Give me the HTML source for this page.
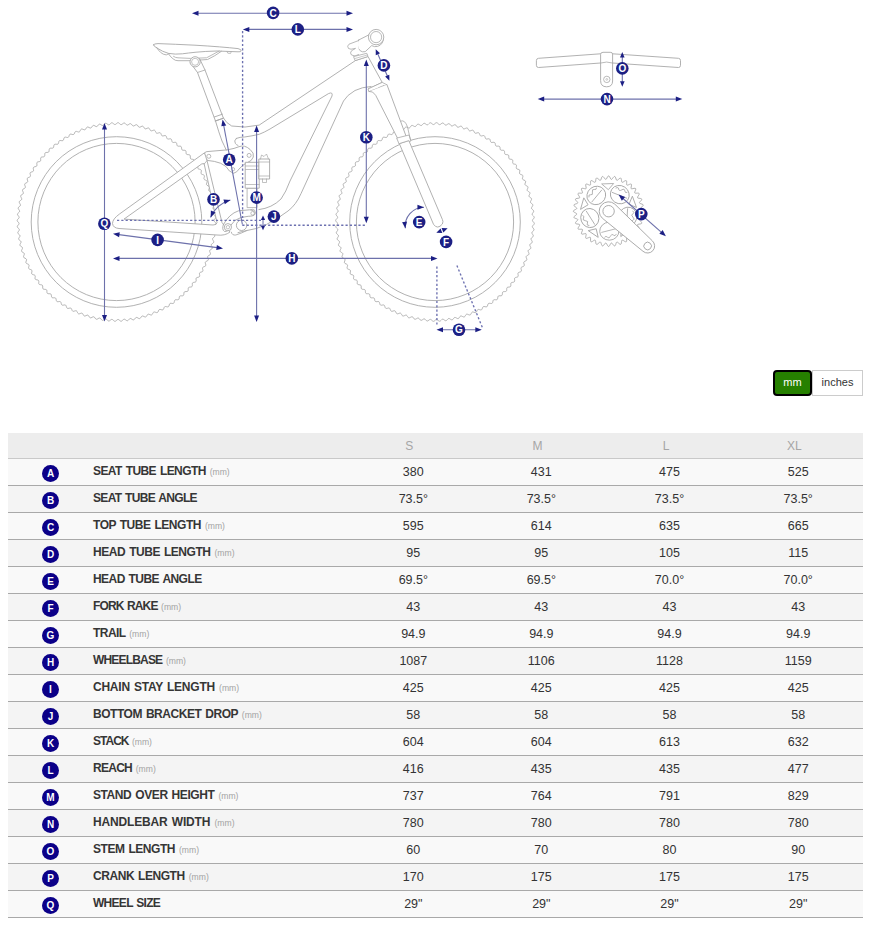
<!DOCTYPE html>
<html><head><meta charset="utf-8">
<style>
html,body{margin:0;padding:0;background:#fff;}
body{width:872px;height:928px;position:relative;overflow:hidden;font-family:"Liberation Sans",sans-serif;}
.hdr{position:absolute;left:8px;top:433px;width:855px;height:25px;background:#ededed;border-bottom:1px solid #c9c9c9;}
.hs{position:absolute;top:433px;width:80px;height:25px;line-height:25px;text-align:center;font-size:12px;color:#a6a6a6;padding-top:1px;}
.row{position:absolute;left:8px;width:855px;height:26px;border-bottom:1px solid #a9a9a9;}
.ltr{position:absolute;left:42px;width:17px;height:17px;border-radius:50%;background:#0b0088;color:#fff;font-weight:bold;font-size:10px;line-height:17px;text-align:center;}
.lab{position:absolute;left:93px;height:26px;line-height:24px;font-weight:bold;font-size:12px;word-spacing:1.08px;color:#363636;white-space:nowrap;}
.mm{font-weight:normal;font-size:8.6px;letter-spacing:0;word-spacing:0;color:#a3a3a3;}
.val{position:absolute;width:80px;height:26px;line-height:27px;text-align:center;font-size:12.5px;color:#333;}
.tog{position:absolute;top:370px;height:26px;line-height:25px;font-size:11px;text-align:center;box-sizing:border-box;}
.mmb{left:773px;width:39px;background:#268000;border:2px solid #000;border-radius:4px;color:#fff;line-height:21px;}
.inb{left:812px;width:51px;background:#fff;border:1px solid #ccc;color:#333;line-height:23px;}
svg{position:absolute;left:0;top:0;}
</style></head><body>
<svg width="872" height="360" viewBox="0 0 872 360"><path d="M214.90,222.00 L215.57,222.78 L215.84,223.56 L215.54,224.33 L214.85,225.09 L214.15,225.84 L213.84,226.59 L214.08,227.37 L214.71,228.18 L215.32,229.00 L215.54,229.79 L215.20,230.55 L214.46,231.26 L213.72,231.96 L213.36,232.69 L213.55,233.49 L214.12,234.33 L214.69,235.19 L214.86,236.00 L214.47,236.73 L213.69,237.39 L212.90,238.05 L212.50,238.75 L212.64,239.56 L213.16,240.44 L213.67,241.33 L213.79,242.15 L213.35,242.85 L212.53,243.47 L211.70,244.07 L211.26,244.75 L211.35,245.56 L211.81,246.47 L212.26,247.39 L212.33,248.22 L211.85,248.89 L210.99,249.45 L210.13,250.00 L209.64,250.65 L209.68,251.47 L210.08,252.41 L210.48,253.35 L210.49,254.18 L209.98,254.83 L209.08,255.33 L208.19,255.83 L207.66,256.45 L207.65,257.26 L207.99,258.22 L208.33,259.19 L208.29,260.02 L207.73,260.63 L206.81,261.08 L205.88,261.52 L205.32,262.10 L205.25,262.91 L205.53,263.90 L205.81,264.89 L205.72,265.71 L205.12,266.28 L204.18,266.67 L203.23,267.05 L202.62,267.60 L202.51,268.41 L202.73,269.40 L202.94,270.41 L202.80,271.22 L202.17,271.76 L201.20,272.09 L200.23,272.41 L199.59,272.92 L199.42,273.72 L199.58,274.73 L199.73,275.74 L199.54,276.55 L198.88,277.04 L197.88,277.31 L196.90,277.56 L196.23,278.03 L196.01,278.82 L196.11,279.84 L196.19,280.86 L195.95,281.65 L195.26,282.11 L194.25,282.31 L193.25,282.50 L192.55,282.93 L192.29,283.70 L192.32,284.72 L192.34,285.75 L192.05,286.52 L191.33,286.93 L190.31,287.07 L189.30,287.20 L188.58,287.59 L188.26,288.34 L188.23,289.36 L188.19,290.38 L187.85,291.14 L187.10,291.50 L186.08,291.58 L185.06,291.64 L184.32,291.98 L183.96,292.71 L183.86,293.73 L183.75,294.75 L183.36,295.48 L182.60,295.80 L181.57,295.81 L180.55,295.81 L179.79,296.10 L179.38,296.81 L179.22,297.82 L179.05,298.83 L178.62,299.54 L177.83,299.80 L176.81,299.75 L175.79,299.69 L175.01,299.93 L174.56,300.61 L174.34,301.61 L174.10,302.61 L173.63,303.28 L172.83,303.50 L171.81,303.38 L170.79,303.26 L170.00,303.45 L169.51,304.10 L169.23,305.08 L168.93,306.06 L168.41,306.71 L167.60,306.88 L166.59,306.70 L165.59,306.51 L164.78,306.65 L164.25,307.27 L163.90,308.23 L163.54,309.19 L162.99,309.80 L162.17,309.92 L161.17,309.68 L160.18,309.42 L159.37,309.51 L158.80,310.10 L158.40,311.03 L157.98,311.97 L157.38,312.55 L156.56,312.61 L155.58,312.31 L154.61,311.99 L153.79,312.03 L153.19,312.58 L152.72,313.49 L152.25,314.40 L151.62,314.94 L150.79,314.95 L149.83,314.58 L148.88,314.21 L148.07,314.20 L147.43,314.71 L146.91,315.58 L146.37,316.46 L145.71,316.96 L144.89,316.92 L143.95,316.49 L143.03,316.06 L142.21,316.00 L141.55,316.46 L140.97,317.31 L140.38,318.15 L139.69,318.60 L138.87,318.51 L137.97,318.03 L137.07,317.54 L136.26,317.43 L135.57,317.85 L134.94,318.66 L134.30,319.46 L133.58,319.87 L132.77,319.73 L131.89,319.19 L131.03,318.64 L130.23,318.48 L129.51,318.86 L128.83,319.62 L128.14,320.39 L127.40,320.75 L126.60,320.56 L125.76,319.96 L124.93,319.36 L124.15,319.15 L123.40,319.48 L122.68,320.21 L121.94,320.92 L121.18,321.24 L120.39,321.00 L119.59,320.35 L118.80,319.70 L118.03,319.44 L117.27,319.73 L116.50,320.40 L115.72,321.07 L114.94,321.34 L114.17,321.04 L113.41,320.35 L112.66,319.65 L111.91,319.34 L111.13,319.58 L110.32,320.21 L109.50,320.82 L108.71,321.04 L107.95,320.70 L107.24,319.96 L106.54,319.22 L105.81,318.86 L105.01,319.05 L104.17,319.62 L103.31,320.19 L102.50,320.36 L101.77,319.97 L101.11,319.19 L100.45,318.40 L99.75,318.00 L98.94,318.14 L98.06,318.66 L97.17,319.17 L96.35,319.29 L95.65,318.85 L95.03,318.03 L94.43,317.20 L93.75,316.76 L92.94,316.85 L92.03,317.31 L91.11,317.76 L90.28,317.83 L89.61,317.35 L89.05,316.49 L88.50,315.63 L87.85,315.14 L87.03,315.18 L86.09,315.58 L85.15,315.98 L84.32,315.99 L83.67,315.48 L83.17,314.58 L82.67,313.69 L82.05,313.16 L81.24,313.15 L80.28,313.49 L79.31,313.83 L78.48,313.79 L77.87,313.23 L77.42,312.31 L76.98,311.38 L76.40,310.82 L75.59,310.75 L74.60,311.03 L73.61,311.31 L72.79,311.22 L72.22,310.62 L71.83,309.68 L71.45,308.73 L70.90,308.12 L70.09,308.01 L69.10,308.23 L68.09,308.44 L67.28,308.30 L66.74,307.67 L66.41,306.70 L66.09,305.73 L65.58,305.09 L64.78,304.92 L63.77,305.08 L62.76,305.23 L61.95,305.04 L61.46,304.38 L61.19,303.38 L60.94,302.40 L60.47,301.73 L59.68,301.51 L58.66,301.61 L57.64,301.69 L56.85,301.45 L56.39,300.76 L56.19,299.75 L56.00,298.75 L55.57,298.05 L54.80,297.79 L53.78,297.82 L52.75,297.84 L51.98,297.55 L51.57,296.83 L51.43,295.81 L51.30,294.80 L50.91,294.08 L50.16,293.76 L49.14,293.73 L48.12,293.69 L47.36,293.35 L47.00,292.60 L46.92,291.58 L46.86,290.56 L46.52,289.82 L45.79,289.46 L44.77,289.36 L43.75,289.25 L43.02,288.86 L42.70,288.10 L42.69,287.07 L42.69,286.05 L42.40,285.29 L41.69,284.88 L40.68,284.72 L39.67,284.55 L38.96,284.12 L38.70,283.33 L38.75,282.31 L38.81,281.29 L38.57,280.51 L37.89,280.06 L36.89,279.84 L35.89,279.60 L35.22,279.13 L35.00,278.33 L35.12,277.31 L35.24,276.29 L35.05,275.50 L34.40,275.01 L33.42,274.73 L32.44,274.43 L31.79,273.91 L31.62,273.10 L31.80,272.09 L31.99,271.09 L31.85,270.28 L31.23,269.75 L30.27,269.40 L29.31,269.04 L28.70,268.49 L28.58,267.67 L28.82,266.67 L29.08,265.68 L28.99,264.87 L28.40,264.30 L27.47,263.90 L26.53,263.48 L25.95,262.88 L25.89,262.06 L26.19,261.08 L26.51,260.11 L26.47,259.29 L25.92,258.69 L25.01,258.22 L24.10,257.75 L23.56,257.12 L23.55,256.29 L23.92,255.33 L24.29,254.38 L24.30,253.57 L23.79,252.93 L22.92,252.41 L22.04,251.87 L21.54,251.21 L21.58,250.39 L22.01,249.45 L22.44,248.53 L22.50,247.71 L22.04,247.05 L21.19,246.47 L20.35,245.88 L19.90,245.19 L19.99,244.37 L20.47,243.47 L20.96,242.57 L21.07,241.76 L20.65,241.07 L19.84,240.44 L19.04,239.80 L18.63,239.08 L18.77,238.27 L19.31,237.39 L19.86,236.53 L20.02,235.73 L19.64,235.01 L18.88,234.33 L18.11,233.64 L17.75,232.90 L17.94,232.10 L18.54,231.26 L19.14,230.43 L19.35,229.65 L19.02,228.90 L18.29,228.18 L17.58,227.44 L17.26,226.68 L17.50,225.89 L18.15,225.09 L18.80,224.30 L19.06,223.53 L18.77,222.77 L18.10,222.00 L17.43,221.22 L17.16,220.44 L17.46,219.67 L18.15,218.91 L18.85,218.16 L19.16,217.41 L18.92,216.63 L18.29,215.82 L17.68,215.00 L17.46,214.21 L17.80,213.45 L18.54,212.74 L19.28,212.04 L19.64,211.31 L19.45,210.51 L18.88,209.67 L18.31,208.81 L18.14,208.00 L18.53,207.27 L19.31,206.61 L20.10,205.95 L20.50,205.25 L20.36,204.44 L19.84,203.56 L19.33,202.67 L19.21,201.85 L19.65,201.15 L20.47,200.53 L21.30,199.93 L21.74,199.25 L21.65,198.44 L21.19,197.53 L20.74,196.61 L20.67,195.78 L21.15,195.11 L22.01,194.55 L22.87,194.00 L23.36,193.35 L23.32,192.53 L22.92,191.59 L22.52,190.65 L22.51,189.82 L23.02,189.17 L23.92,188.67 L24.81,188.17 L25.34,187.55 L25.35,186.74 L25.01,185.78 L24.67,184.81 L24.71,183.98 L25.27,183.37 L26.19,182.92 L27.12,182.48 L27.68,181.90 L27.75,181.09 L27.47,180.10 L27.19,179.11 L27.28,178.29 L27.88,177.72 L28.82,177.33 L29.77,176.95 L30.38,176.40 L30.49,175.59 L30.27,174.60 L30.06,173.59 L30.20,172.78 L30.83,172.24 L31.80,171.91 L32.77,171.59 L33.41,171.08 L33.58,170.28 L33.42,169.27 L33.27,168.26 L33.46,167.45 L34.12,166.96 L35.12,166.69 L36.10,166.44 L36.77,165.97 L36.99,165.18 L36.89,164.16 L36.81,163.14 L37.05,162.35 L37.74,161.89 L38.75,161.69 L39.75,161.50 L40.45,161.07 L40.71,160.30 L40.68,159.28 L40.66,158.25 L40.95,157.48 L41.67,157.07 L42.69,156.93 L43.70,156.80 L44.42,156.41 L44.74,155.66 L44.77,154.64 L44.81,153.62 L45.15,152.86 L45.90,152.50 L46.92,152.42 L47.94,152.36 L48.68,152.02 L49.04,151.29 L49.14,150.27 L49.25,149.25 L49.64,148.52 L50.40,148.20 L51.43,148.19 L52.45,148.19 L53.21,147.90 L53.62,147.19 L53.78,146.18 L53.95,145.17 L54.38,144.46 L55.17,144.20 L56.19,144.25 L57.21,144.31 L57.99,144.07 L58.44,143.39 L58.66,142.39 L58.90,141.39 L59.37,140.72 L60.17,140.50 L61.19,140.62 L62.21,140.74 L63.00,140.55 L63.49,139.90 L63.77,138.92 L64.07,137.94 L64.59,137.29 L65.40,137.12 L66.41,137.30 L67.41,137.49 L68.22,137.35 L68.75,136.73 L69.10,135.77 L69.46,134.81 L70.01,134.20 L70.83,134.08 L71.83,134.32 L72.82,134.58 L73.63,134.49 L74.20,133.90 L74.60,132.97 L75.02,132.03 L75.62,131.45 L76.44,131.39 L77.42,131.69 L78.39,132.01 L79.21,131.97 L79.81,131.42 L80.28,130.51 L80.75,129.60 L81.38,129.06 L82.21,129.05 L83.17,129.42 L84.12,129.79 L84.93,129.80 L85.57,129.29 L86.09,128.42 L86.63,127.54 L87.29,127.04 L88.11,127.08 L89.05,127.51 L89.97,127.94 L90.79,128.00 L91.45,127.54 L92.03,126.69 L92.62,125.85 L93.31,125.40 L94.13,125.49 L95.03,125.97 L95.93,126.46 L96.74,126.57 L97.43,126.15 L98.06,125.34 L98.70,124.54 L99.42,124.13 L100.23,124.27 L101.11,124.81 L101.97,125.36 L102.77,125.52 L103.49,125.14 L104.17,124.38 L104.86,123.61 L105.60,123.25 L106.40,123.44 L107.24,124.04 L108.07,124.64 L108.85,124.85 L109.60,124.52 L110.32,123.79 L111.06,123.08 L111.82,122.76 L112.61,123.00 L113.41,123.65 L114.20,124.30 L114.97,124.56 L115.73,124.27 L116.50,123.60 L117.28,122.93 L118.06,122.66 L118.83,122.96 L119.59,123.65 L120.34,124.35 L121.09,124.66 L121.87,124.42 L122.68,123.79 L123.50,123.18 L124.29,122.96 L125.05,123.30 L125.76,124.04 L126.46,124.78 L127.19,125.14 L127.99,124.95 L128.83,124.38 L129.69,123.81 L130.50,123.64 L131.23,124.03 L131.89,124.81 L132.55,125.60 L133.25,126.00 L134.06,125.86 L134.94,125.34 L135.83,124.83 L136.65,124.71 L137.35,125.15 L137.97,125.97 L138.57,126.80 L139.25,127.24 L140.06,127.15 L140.97,126.69 L141.89,126.24 L142.72,126.17 L143.39,126.65 L143.95,127.51 L144.50,128.37 L145.15,128.86 L145.97,128.82 L146.91,128.42 L147.85,128.02 L148.68,128.01 L149.33,128.52 L149.83,129.42 L150.33,130.31 L150.95,130.84 L151.76,130.85 L152.72,130.51 L153.69,130.17 L154.52,130.21 L155.13,130.77 L155.58,131.69 L156.02,132.62 L156.60,133.18 L157.41,133.25 L158.40,132.97 L159.39,132.69 L160.21,132.78 L160.78,133.38 L161.17,134.32 L161.55,135.27 L162.10,135.88 L162.91,135.99 L163.90,135.77 L164.91,135.56 L165.72,135.70 L166.26,136.33 L166.59,137.30 L166.91,138.27 L167.42,138.91 L168.22,139.08 L169.23,138.92 L170.24,138.77 L171.05,138.96 L171.54,139.62 L171.81,140.62 L172.06,141.60 L172.53,142.27 L173.32,142.49 L174.34,142.39 L175.36,142.31 L176.15,142.55 L176.61,143.24 L176.81,144.25 L177.00,145.25 L177.43,145.95 L178.20,146.21 L179.22,146.18 L180.25,146.16 L181.02,146.45 L181.43,147.17 L181.57,148.19 L181.70,149.20 L182.09,149.92 L182.84,150.24 L183.86,150.27 L184.88,150.31 L185.64,150.65 L186.00,151.40 L186.08,152.42 L186.14,153.44 L186.48,154.18 L187.21,154.54 L188.23,154.64 L189.25,154.75 L189.98,155.14 L190.30,155.90 L190.31,156.93 L190.31,157.95 L190.60,158.71 L191.31,159.12 L192.32,159.28 L193.33,159.45 L194.04,159.88 L194.30,160.67 L194.25,161.69 L194.19,162.71 L194.43,163.49 L195.11,163.94 L196.11,164.16 L197.11,164.40 L197.78,164.87 L198.00,165.67 L197.88,166.69 L197.76,167.71 L197.95,168.50 L198.60,168.99 L199.58,169.27 L200.56,169.57 L201.21,170.09 L201.38,170.90 L201.20,171.91 L201.01,172.91 L201.15,173.72 L201.77,174.25 L202.73,174.60 L203.69,174.96 L204.30,175.51 L204.42,176.33 L204.18,177.33 L203.92,178.32 L204.01,179.13 L204.60,179.70 L205.53,180.10 L206.47,180.52 L207.05,181.12 L207.11,181.94 L206.81,182.92 L206.49,183.89 L206.53,184.71 L207.08,185.31 L207.99,185.78 L208.90,186.25 L209.44,186.88 L209.45,187.71 L209.08,188.67 L208.71,189.62 L208.70,190.43 L209.21,191.07 L210.08,191.59 L210.96,192.13 L211.46,192.79 L211.42,193.61 L210.99,194.55 L210.56,195.47 L210.50,196.29 L210.96,196.95 L211.81,197.53 L212.65,198.12 L213.10,198.81 L213.01,199.63 L212.53,200.53 L212.04,201.43 L211.93,202.24 L212.35,202.93 L213.16,203.56 L213.96,204.20 L214.37,204.92 L214.23,205.73 L213.69,206.61 L213.14,207.47 L212.98,208.27 L213.36,208.99 L214.12,209.67 L214.89,210.36 L215.25,211.10 L215.06,211.90 L214.46,212.74 L213.86,213.57 L213.65,214.35 L213.98,215.10 L214.71,215.82 L215.42,216.56 L215.74,217.32 L215.50,218.11 L214.85,218.91 L214.20,219.70 L213.94,220.47 L214.23,221.23 L214.90,222.00Z" fill="none" stroke="#a8a8a8" stroke-width="0.85"/><circle cx="116.5" cy="222.0" r="85.3" fill="none" stroke="#a8a8a8" stroke-width="0.9"/><circle cx="116.5" cy="222.0" r="78.6" fill="none" stroke="#a8a8a8" stroke-width="0.9"/><path d="M533.40,222.00 L534.07,222.78 L534.34,223.56 L534.04,224.33 L533.35,225.09 L532.65,225.84 L532.34,226.59 L532.58,227.37 L533.21,228.18 L533.82,229.00 L534.04,229.79 L533.70,230.55 L532.96,231.26 L532.22,231.96 L531.86,232.69 L532.05,233.49 L532.62,234.33 L533.19,235.19 L533.36,236.00 L532.97,236.73 L532.19,237.39 L531.40,238.05 L531.00,238.75 L531.14,239.56 L531.66,240.44 L532.17,241.33 L532.29,242.15 L531.85,242.85 L531.03,243.47 L530.20,244.07 L529.76,244.75 L529.85,245.56 L530.31,246.47 L530.76,247.39 L530.83,248.22 L530.35,248.89 L529.49,249.45 L528.63,250.00 L528.14,250.65 L528.18,251.47 L528.58,252.41 L528.98,253.35 L528.99,254.18 L528.48,254.83 L527.58,255.33 L526.69,255.83 L526.16,256.45 L526.15,257.26 L526.49,258.22 L526.83,259.19 L526.79,260.02 L526.23,260.63 L525.31,261.08 L524.38,261.52 L523.82,262.10 L523.75,262.91 L524.03,263.90 L524.31,264.89 L524.22,265.71 L523.62,266.28 L522.68,266.67 L521.73,267.05 L521.12,267.60 L521.01,268.41 L521.23,269.40 L521.44,270.41 L521.30,271.22 L520.67,271.76 L519.70,272.09 L518.73,272.41 L518.09,272.92 L517.92,273.72 L518.08,274.73 L518.23,275.74 L518.04,276.55 L517.38,277.04 L516.38,277.31 L515.40,277.56 L514.73,278.03 L514.51,278.82 L514.61,279.84 L514.69,280.86 L514.45,281.65 L513.76,282.11 L512.75,282.31 L511.75,282.50 L511.05,282.93 L510.79,283.70 L510.82,284.72 L510.84,285.75 L510.55,286.52 L509.83,286.93 L508.81,287.07 L507.80,287.20 L507.08,287.59 L506.76,288.34 L506.73,289.36 L506.69,290.38 L506.35,291.14 L505.60,291.50 L504.58,291.58 L503.56,291.64 L502.82,291.98 L502.46,292.71 L502.36,293.73 L502.25,294.75 L501.86,295.48 L501.10,295.80 L500.07,295.81 L499.05,295.81 L498.29,296.10 L497.88,296.81 L497.72,297.82 L497.55,298.83 L497.12,299.54 L496.33,299.80 L495.31,299.75 L494.29,299.69 L493.51,299.93 L493.06,300.61 L492.84,301.61 L492.60,302.61 L492.13,303.28 L491.33,303.50 L490.31,303.38 L489.29,303.26 L488.50,303.45 L488.01,304.10 L487.73,305.08 L487.43,306.06 L486.91,306.71 L486.10,306.88 L485.09,306.70 L484.09,306.51 L483.28,306.65 L482.75,307.27 L482.40,308.23 L482.04,309.19 L481.49,309.80 L480.67,309.92 L479.67,309.68 L478.68,309.42 L477.87,309.51 L477.30,310.10 L476.90,311.03 L476.48,311.97 L475.88,312.55 L475.06,312.61 L474.08,312.31 L473.11,311.99 L472.29,312.03 L471.69,312.58 L471.22,313.49 L470.75,314.40 L470.12,314.94 L469.29,314.95 L468.33,314.58 L467.38,314.21 L466.57,314.20 L465.93,314.71 L465.41,315.58 L464.87,316.46 L464.21,316.96 L463.39,316.92 L462.45,316.49 L461.53,316.06 L460.71,316.00 L460.05,316.46 L459.47,317.31 L458.88,318.15 L458.19,318.60 L457.37,318.51 L456.47,318.03 L455.57,317.54 L454.76,317.43 L454.07,317.85 L453.44,318.66 L452.80,319.46 L452.08,319.87 L451.27,319.73 L450.39,319.19 L449.53,318.64 L448.73,318.48 L448.01,318.86 L447.33,319.62 L446.64,320.39 L445.90,320.75 L445.10,320.56 L444.26,319.96 L443.43,319.36 L442.65,319.15 L441.90,319.48 L441.18,320.21 L440.44,320.92 L439.68,321.24 L438.89,321.00 L438.09,320.35 L437.30,319.70 L436.53,319.44 L435.77,319.73 L435.00,320.40 L434.22,321.07 L433.44,321.34 L432.67,321.04 L431.91,320.35 L431.16,319.65 L430.41,319.34 L429.63,319.58 L428.82,320.21 L428.00,320.82 L427.21,321.04 L426.45,320.70 L425.74,319.96 L425.04,319.22 L424.31,318.86 L423.51,319.05 L422.67,319.62 L421.81,320.19 L421.00,320.36 L420.27,319.97 L419.61,319.19 L418.95,318.40 L418.25,318.00 L417.44,318.14 L416.56,318.66 L415.67,319.17 L414.85,319.29 L414.15,318.85 L413.53,318.03 L412.93,317.20 L412.25,316.76 L411.44,316.85 L410.53,317.31 L409.61,317.76 L408.78,317.83 L408.11,317.35 L407.55,316.49 L407.00,315.63 L406.35,315.14 L405.53,315.18 L404.59,315.58 L403.65,315.98 L402.82,315.99 L402.17,315.48 L401.67,314.58 L401.17,313.69 L400.55,313.16 L399.74,313.15 L398.78,313.49 L397.81,313.83 L396.98,313.79 L396.37,313.23 L395.92,312.31 L395.48,311.38 L394.90,310.82 L394.09,310.75 L393.10,311.03 L392.11,311.31 L391.29,311.22 L390.72,310.62 L390.33,309.68 L389.95,308.73 L389.40,308.12 L388.59,308.01 L387.60,308.23 L386.59,308.44 L385.78,308.30 L385.24,307.67 L384.91,306.70 L384.59,305.73 L384.08,305.09 L383.28,304.92 L382.27,305.08 L381.26,305.23 L380.45,305.04 L379.96,304.38 L379.69,303.38 L379.44,302.40 L378.97,301.73 L378.18,301.51 L377.16,301.61 L376.14,301.69 L375.35,301.45 L374.89,300.76 L374.69,299.75 L374.50,298.75 L374.07,298.05 L373.30,297.79 L372.28,297.82 L371.25,297.84 L370.48,297.55 L370.07,296.83 L369.93,295.81 L369.80,294.80 L369.41,294.08 L368.66,293.76 L367.64,293.73 L366.62,293.69 L365.86,293.35 L365.50,292.60 L365.42,291.58 L365.36,290.56 L365.02,289.82 L364.29,289.46 L363.27,289.36 L362.25,289.25 L361.52,288.86 L361.20,288.10 L361.19,287.07 L361.19,286.05 L360.90,285.29 L360.19,284.88 L359.18,284.72 L358.17,284.55 L357.46,284.12 L357.20,283.33 L357.25,282.31 L357.31,281.29 L357.07,280.51 L356.39,280.06 L355.39,279.84 L354.39,279.60 L353.72,279.13 L353.50,278.33 L353.62,277.31 L353.74,276.29 L353.55,275.50 L352.90,275.01 L351.92,274.73 L350.94,274.43 L350.29,273.91 L350.12,273.10 L350.30,272.09 L350.49,271.09 L350.35,270.28 L349.73,269.75 L348.77,269.40 L347.81,269.04 L347.20,268.49 L347.08,267.67 L347.32,266.67 L347.58,265.68 L347.49,264.87 L346.90,264.30 L345.97,263.90 L345.03,263.48 L344.45,262.88 L344.39,262.06 L344.69,261.08 L345.01,260.11 L344.97,259.29 L344.42,258.69 L343.51,258.22 L342.60,257.75 L342.06,257.12 L342.05,256.29 L342.42,255.33 L342.79,254.38 L342.80,253.57 L342.29,252.93 L341.42,252.41 L340.54,251.87 L340.04,251.21 L340.08,250.39 L340.51,249.45 L340.94,248.53 L341.00,247.71 L340.54,247.05 L339.69,246.47 L338.85,245.88 L338.40,245.19 L338.49,244.37 L338.97,243.47 L339.46,242.57 L339.57,241.76 L339.15,241.07 L338.34,240.44 L337.54,239.80 L337.13,239.08 L337.27,238.27 L337.81,237.39 L338.36,236.53 L338.52,235.73 L338.14,235.01 L337.38,234.33 L336.61,233.64 L336.25,232.90 L336.44,232.10 L337.04,231.26 L337.64,230.43 L337.85,229.65 L337.52,228.90 L336.79,228.18 L336.08,227.44 L335.76,226.68 L336.00,225.89 L336.65,225.09 L337.30,224.30 L337.56,223.53 L337.27,222.77 L336.60,222.00 L335.93,221.22 L335.66,220.44 L335.96,219.67 L336.65,218.91 L337.35,218.16 L337.66,217.41 L337.42,216.63 L336.79,215.82 L336.18,215.00 L335.96,214.21 L336.30,213.45 L337.04,212.74 L337.78,212.04 L338.14,211.31 L337.95,210.51 L337.38,209.67 L336.81,208.81 L336.64,208.00 L337.03,207.27 L337.81,206.61 L338.60,205.95 L339.00,205.25 L338.86,204.44 L338.34,203.56 L337.83,202.67 L337.71,201.85 L338.15,201.15 L338.97,200.53 L339.80,199.93 L340.24,199.25 L340.15,198.44 L339.69,197.53 L339.24,196.61 L339.17,195.78 L339.65,195.11 L340.51,194.55 L341.37,194.00 L341.86,193.35 L341.82,192.53 L341.42,191.59 L341.02,190.65 L341.01,189.82 L341.52,189.17 L342.42,188.67 L343.31,188.17 L343.84,187.55 L343.85,186.74 L343.51,185.78 L343.17,184.81 L343.21,183.98 L343.77,183.37 L344.69,182.92 L345.62,182.48 L346.18,181.90 L346.25,181.09 L345.97,180.10 L345.69,179.11 L345.78,178.29 L346.38,177.72 L347.32,177.33 L348.27,176.95 L348.88,176.40 L348.99,175.59 L348.77,174.60 L348.56,173.59 L348.70,172.78 L349.33,172.24 L350.30,171.91 L351.27,171.59 L351.91,171.08 L352.08,170.28 L351.92,169.27 L351.77,168.26 L351.96,167.45 L352.62,166.96 L353.62,166.69 L354.60,166.44 L355.27,165.97 L355.49,165.18 L355.39,164.16 L355.31,163.14 L355.55,162.35 L356.24,161.89 L357.25,161.69 L358.25,161.50 L358.95,161.07 L359.21,160.30 L359.18,159.28 L359.16,158.25 L359.45,157.48 L360.17,157.07 L361.19,156.93 L362.20,156.80 L362.92,156.41 L363.24,155.66 L363.27,154.64 L363.31,153.62 L363.65,152.86 L364.40,152.50 L365.42,152.42 L366.44,152.36 L367.18,152.02 L367.54,151.29 L367.64,150.27 L367.75,149.25 L368.14,148.52 L368.90,148.20 L369.93,148.19 L370.95,148.19 L371.71,147.90 L372.12,147.19 L372.28,146.18 L372.45,145.17 L372.88,144.46 L373.67,144.20 L374.69,144.25 L375.71,144.31 L376.49,144.07 L376.94,143.39 L377.16,142.39 L377.40,141.39 L377.87,140.72 L378.67,140.50 L379.69,140.62 L380.71,140.74 L381.50,140.55 L381.99,139.90 L382.27,138.92 L382.57,137.94 L383.09,137.29 L383.90,137.12 L384.91,137.30 L385.91,137.49 L386.72,137.35 L387.25,136.73 L387.60,135.77 L387.96,134.81 L388.51,134.20 L389.33,134.08 L390.33,134.32 L391.32,134.58 L392.13,134.49 L392.70,133.90 L393.10,132.97 L393.52,132.03 L394.12,131.45 L394.94,131.39 L395.92,131.69 L396.89,132.01 L397.71,131.97 L398.31,131.42 L398.78,130.51 L399.25,129.60 L399.88,129.06 L400.71,129.05 L401.67,129.42 L402.62,129.79 L403.43,129.80 L404.07,129.29 L404.59,128.42 L405.13,127.54 L405.79,127.04 L406.61,127.08 L407.55,127.51 L408.47,127.94 L409.29,128.00 L409.95,127.54 L410.53,126.69 L411.12,125.85 L411.81,125.40 L412.63,125.49 L413.53,125.97 L414.43,126.46 L415.24,126.57 L415.93,126.15 L416.56,125.34 L417.20,124.54 L417.92,124.13 L418.73,124.27 L419.61,124.81 L420.47,125.36 L421.27,125.52 L421.99,125.14 L422.67,124.38 L423.36,123.61 L424.10,123.25 L424.90,123.44 L425.74,124.04 L426.57,124.64 L427.35,124.85 L428.10,124.52 L428.82,123.79 L429.56,123.08 L430.32,122.76 L431.11,123.00 L431.91,123.65 L432.70,124.30 L433.47,124.56 L434.23,124.27 L435.00,123.60 L435.78,122.93 L436.56,122.66 L437.33,122.96 L438.09,123.65 L438.84,124.35 L439.59,124.66 L440.37,124.42 L441.18,123.79 L442.00,123.18 L442.79,122.96 L443.55,123.30 L444.26,124.04 L444.96,124.78 L445.69,125.14 L446.49,124.95 L447.33,124.38 L448.19,123.81 L449.00,123.64 L449.73,124.03 L450.39,124.81 L451.05,125.60 L451.75,126.00 L452.56,125.86 L453.44,125.34 L454.33,124.83 L455.15,124.71 L455.85,125.15 L456.47,125.97 L457.07,126.80 L457.75,127.24 L458.56,127.15 L459.47,126.69 L460.39,126.24 L461.22,126.17 L461.89,126.65 L462.45,127.51 L463.00,128.37 L463.65,128.86 L464.47,128.82 L465.41,128.42 L466.35,128.02 L467.18,128.01 L467.83,128.52 L468.33,129.42 L468.83,130.31 L469.45,130.84 L470.26,130.85 L471.22,130.51 L472.19,130.17 L473.02,130.21 L473.63,130.77 L474.08,131.69 L474.52,132.62 L475.10,133.18 L475.91,133.25 L476.90,132.97 L477.89,132.69 L478.71,132.78 L479.28,133.38 L479.67,134.32 L480.05,135.27 L480.60,135.88 L481.41,135.99 L482.40,135.77 L483.41,135.56 L484.22,135.70 L484.76,136.33 L485.09,137.30 L485.41,138.27 L485.92,138.91 L486.72,139.08 L487.73,138.92 L488.74,138.77 L489.55,138.96 L490.04,139.62 L490.31,140.62 L490.56,141.60 L491.03,142.27 L491.82,142.49 L492.84,142.39 L493.86,142.31 L494.65,142.55 L495.11,143.24 L495.31,144.25 L495.50,145.25 L495.93,145.95 L496.70,146.21 L497.72,146.18 L498.75,146.16 L499.52,146.45 L499.93,147.17 L500.07,148.19 L500.20,149.20 L500.59,149.92 L501.34,150.24 L502.36,150.27 L503.38,150.31 L504.14,150.65 L504.50,151.40 L504.58,152.42 L504.64,153.44 L504.98,154.18 L505.71,154.54 L506.73,154.64 L507.75,154.75 L508.48,155.14 L508.80,155.90 L508.81,156.93 L508.81,157.95 L509.10,158.71 L509.81,159.12 L510.82,159.28 L511.83,159.45 L512.54,159.88 L512.80,160.67 L512.75,161.69 L512.69,162.71 L512.93,163.49 L513.61,163.94 L514.61,164.16 L515.61,164.40 L516.28,164.87 L516.50,165.67 L516.38,166.69 L516.26,167.71 L516.45,168.50 L517.10,168.99 L518.08,169.27 L519.06,169.57 L519.71,170.09 L519.88,170.90 L519.70,171.91 L519.51,172.91 L519.65,173.72 L520.27,174.25 L521.23,174.60 L522.19,174.96 L522.80,175.51 L522.92,176.33 L522.68,177.33 L522.42,178.32 L522.51,179.13 L523.10,179.70 L524.03,180.10 L524.97,180.52 L525.55,181.12 L525.61,181.94 L525.31,182.92 L524.99,183.89 L525.03,184.71 L525.58,185.31 L526.49,185.78 L527.40,186.25 L527.94,186.88 L527.95,187.71 L527.58,188.67 L527.21,189.62 L527.20,190.43 L527.71,191.07 L528.58,191.59 L529.46,192.13 L529.96,192.79 L529.92,193.61 L529.49,194.55 L529.06,195.47 L529.00,196.29 L529.46,196.95 L530.31,197.53 L531.15,198.12 L531.60,198.81 L531.51,199.63 L531.03,200.53 L530.54,201.43 L530.43,202.24 L530.85,202.93 L531.66,203.56 L532.46,204.20 L532.87,204.92 L532.73,205.73 L532.19,206.61 L531.64,207.47 L531.48,208.27 L531.86,208.99 L532.62,209.67 L533.39,210.36 L533.75,211.10 L533.56,211.90 L532.96,212.74 L532.36,213.57 L532.15,214.35 L532.48,215.10 L533.21,215.82 L533.92,216.56 L534.24,217.32 L534.00,218.11 L533.35,218.91 L532.70,219.70 L532.44,220.47 L532.73,221.23 L533.40,222.00Z" fill="none" stroke="#a8a8a8" stroke-width="0.85"/><circle cx="435.0" cy="222.0" r="85.3" fill="none" stroke="#a8a8a8" stroke-width="0.9"/><circle cx="435.0" cy="222.0" r="78.6" fill="none" stroke="#a8a8a8" stroke-width="0.9"/><path d="M223.4,118 Q226,123 231.7,126 Q244.5,128.5 259.2,125.1 L358.5,58.5" fill="none" stroke="#a8a8a8" stroke-width="0.9" stroke-linejoin="round" stroke-linecap="round" /><path d="M236.3,138.4 Q240,137 244.5,137 Q252,136 259.2,134.3 Q264,132.5 270,129 L328.5,93.6 Q333,91.5 332,96 L290,181 Q286,192 281,199 Q272,208 258.9,209.6" fill="none" stroke="#a8a8a8" stroke-width="0.9" stroke-linejoin="round" stroke-linecap="round" /><path d="M236.3,138.4 Q233.5,141 235.4,143.5 Q236.5,145 238,145.5" fill="none" stroke="#a8a8a8" stroke-width="0.9" stroke-linejoin="round" stroke-linecap="round" /><path d="M371,86.5 Q362,87 355,90.5 Q347,95 343.5,101 L301,193.6 Q296,205 288,211 Q279,218 266.4,224.5 Q256,229.5 246.9,230.5 Q242,231.5 238,232.6" fill="none" stroke="#a8a8a8" stroke-width="0.9" stroke-linejoin="round" stroke-linecap="round" /><path d="M355.5,60.5 L368,56.5 L382.2,82.4 L368.4,88.8" fill="none" stroke="#a8a8a8" stroke-width="0.9" stroke-linejoin="round" stroke-linecap="round" /><path d="M190.5,63 L197.5,72.5 L215.5,121 L223.4,118.2 L205,70 L199.5,58.5" fill="#fff" stroke="#a8a8a8" stroke-width="0.9" stroke-linejoin="round" stroke-linecap="round" /><path d="M197.5,72.5 L205,70" fill="none" stroke="#a8a8a8" stroke-width="0.8" stroke-linejoin="round" stroke-linecap="round" /><path d="M215.2,121 L223.4,118.2" fill="none" stroke="#a8a8a8" stroke-width="0.9" stroke-linejoin="round" stroke-linecap="round" /><path d="M214.3,117 L222.4,114.2" fill="none" stroke="#a8a8a8" stroke-width="0.9" stroke-linejoin="round" stroke-linecap="round" /><path d="M215.5,121 Q219,133 222,141 Q224.5,146 226.2,150" fill="none" stroke="#a8a8a8" stroke-width="0.9" stroke-linejoin="round" stroke-linecap="round" /><path d="M153.5,44.8 Q154,43.6 158,43.6 Q175,44.2 195,45.2 Q222,46.8 238,48.6 Q241.5,49.4 241.2,51 Q240.8,52 238,51.8 L217,51 Q205,51.3 196,52.2 Q188,53 182.4,53.8 Q175,54.6 168.6,53.4 Q162,51.5 158,48.6 Q153.2,46.2 153.5,44.8Z" fill="#fff" stroke="#a8a8a8" stroke-width="0.9" stroke-linejoin="round" stroke-linecap="round" /><path d="M156.6,47.5 Q158.5,50.5 160.6,52.4 Q163,54.6 166.3,54.9 L168.6,53.8" fill="none" stroke="#a8a8a8" stroke-width="0.85" stroke-linejoin="round" stroke-linecap="round" /><path d="M168.6,54 Q171,57.5 173.2,58.9 Q175,60.7 178,60.7 L190.4,60.7 L207.6,59.5 Q215,56 221.4,51.3" fill="none" stroke="#a8a8a8" stroke-width="0.85" stroke-linejoin="round" stroke-linecap="round" /><path d="M173.5,56.4 Q175.5,57.8 178,57.8 L190.4,58.4 L206.5,57.8 Q213,54.5 219.1,51" fill="none" stroke="#a8a8a8" stroke-width="0.8" stroke-linejoin="round" stroke-linecap="round" /><path d="M227,51.6 L227.8,53.2 L230.6,53.4 L231.2,51.8" fill="none" stroke="#a8a8a8" stroke-width="0.7" stroke-linejoin="round" stroke-linecap="round" /><circle cx="195.1" cy="61.8" r="5.1" fill="#fff" stroke="#a8a8a8" stroke-width="0.9"/><circle cx="195.1" cy="61.8" r="3.5" fill="none" stroke="#a8a8a8" stroke-width="0.7"/><path d="M204.2,156 Q203.5,151.5 208,151.5 L227.1,149.9 Q235,148.5 239,146.7 Q244.5,144.5 250,149.4 Q254.5,153 253.3,157 Q252,161 247.5,162.5 Q243,164.5 240,168 Q236.5,173 233.5,173.3 Q229,172 226,166.5 Q221,162.5 214.3,161.4 L208,160.5 Q204.5,159.5 204.2,156Z" fill="none" stroke="#a8a8a8" stroke-width="0.9" stroke-linejoin="round" stroke-linecap="round" /><circle cx="208.8" cy="156.3" r="2.0" fill="none" stroke="#a8a8a8" stroke-width="0.8"/><circle cx="249.1" cy="155.4" r="2.0" fill="none" stroke="#a8a8a8" stroke-width="0.8"/><circle cx="233.1" cy="169.2" r="1.6" fill="none" stroke="#a8a8a8" stroke-width="0.7"/><path d="M247.5,188.2 L257,188.2 L257,207.6 L247.5,207.6Z" fill="#fff" stroke="#a8a8a8" stroke-width="0.8" stroke-linejoin="round" stroke-linecap="round" /><circle cx="252.3" cy="212.3" r="3.0" fill="#fff" stroke="#a8a8a8" stroke-width="0.8"/><path d="M245.6,162.3 L259.2,162.3 L259.2,188.2 L245.6,188.2Z" fill="#fff" stroke="#a8a8a8" stroke-width="0.9" stroke-linejoin="round" stroke-linecap="round" /><path d="M245.6,166 L259.2,166 M245.6,169.5 L259.2,169.5 M245.6,184.5 L259.2,184.5" fill="none" stroke="#a8a8a8" stroke-width="0.7" stroke-linejoin="round" stroke-linecap="round" /><path d="M259.2,159 L269.6,159 L269.6,179 L259.2,179Z" fill="#fff" stroke="#a8a8a8" stroke-width="0.9" stroke-linejoin="round" stroke-linecap="round" /><path d="M259.2,162 L269.6,162 M259.2,176 L269.6,176" fill="none" stroke="#a8a8a8" stroke-width="0.7" stroke-linejoin="round" stroke-linecap="round" /><path d="M262.5,179 L262.5,182.5 L266.5,182.5 L266.5,179" fill="none" stroke="#a8a8a8" stroke-width="0.7" stroke-linejoin="round" stroke-linecap="round" /><path d="M260.5,159 L261.5,155 L264,156.5 L266.5,154 L268.5,159" fill="none" stroke="#a8a8a8" stroke-width="0.7" stroke-linejoin="round" stroke-linecap="round" /><path d="M204.2,153 L119.5,214 Q112.5,219 112.5,223.5 Q113,228 119,228.5 L217,235 Q225,236 230,232 L222,222.6 L207,160.6 Z M201.5,164.1 L124,219.1 L213,225 Q217,225 217,222.6 L204.2,164 Z" fill="#fff" stroke="#a8a8a8" stroke-width="0.9" stroke-linejoin="round" stroke-linecap="round" fill-rule="evenodd"/><path d="M204.2,164 L207,160.6" fill="none" stroke="#a8a8a8" stroke-width="0.8" stroke-linejoin="round" stroke-linecap="round" /><path d="M223.4,224.6 Q229,214 238.5,210.8 L249.6,209.8 Q255.5,210.5 255,214 Q254.4,216.2 248.2,216.3 L241,217.5 Q234,219.5 231,225 Q229,232 224.5,231.5 Q221.5,229.5 223.4,224.6Z" fill="#fff" stroke="#a8a8a8" stroke-width="0.9" stroke-linejoin="round" stroke-linecap="round" /><circle cx="252.6" cy="213.3" r="1.8" fill="none" stroke="#a8a8a8" stroke-width="0.7"/><circle cx="227.9" cy="227.2" r="3.6" fill="#fff" stroke="#a8a8a8" stroke-width="0.9"/><circle cx="227.9" cy="227.2" r="1.7" fill="none" stroke="#a8a8a8" stroke-width="0.7"/><path d="M231.3,232.2 Q232,235.6 235.8,235 Q241,233.5 246.9,230.5" fill="none" stroke="#a8a8a8" stroke-width="0.85" stroke-linejoin="round" stroke-linecap="round" /><circle cx="241.6" cy="225.3" r="5.2" fill="#fff" stroke="#a8a8a8" stroke-width="0.9"/><path d="M368.4,88.8 L382.2,82.4 L387,84.8 L369.2,91.5Z" fill="#fff" stroke="#a8a8a8" stroke-width="0.8" stroke-linejoin="round" stroke-linecap="round" /><path d="M379,87.5 L384,85.3 L383,88 L379.5,89.5Z" fill="none" stroke="#a8a8a8" stroke-width="0.6" stroke-linejoin="round" stroke-linecap="round" /><path d="M369.2,91.5 L372.5,92 L375.7,95.3 L399.6,142.3 L407.2,139.2 L387,84.8" fill="#fff" stroke="#a8a8a8" stroke-width="0.9" stroke-linejoin="round" stroke-linecap="round" /><path d="M397,138 L409,135 L411,141 L399.5,144Z" fill="#fff" stroke="#a8a8a8" stroke-width="0.8" stroke-linejoin="round" stroke-linecap="round" /><path d="M399.5,144 L433.5,224.3 Q437.5,230 442.4,224 Q443.5,221.5 442.4,219.5 L409,141Z" fill="#fff" stroke="#a8a8a8" stroke-width="0.9" stroke-linejoin="round" stroke-linecap="round" /><path d="M401,121 Q405,119.5 407.5,127 L410.5,140" fill="none" stroke="#a8a8a8" stroke-width="0.8" stroke-linejoin="round" stroke-linecap="round" /><path d="M358.7,40 L369.2,34.7 A7.7,7.7 0 1 1 371.7,45.6 L365.2,51.7 Q359,53 357.5,45.2 Q357.3,41.5 358.7,40Z" fill="#fff" stroke="#a8a8a8" stroke-width="0.85" stroke-linejoin="round" stroke-linecap="round" /><circle cx="376.1" cy="37.1" r="7.7" fill="#fff" stroke="#a8a8a8" stroke-width="0.85"/><circle cx="376.1" cy="37.1" r="5.6" fill="none" stroke="#a8a8a8" stroke-width="0.8"/><path d="M358.7,40.5 L349,44.2 Q346.5,46 348.5,48.5 L351,49.2 L355.5,48.4 L351.5,50.8 Q349.5,53 351.5,55 L355,56 L358.5,54.5" fill="#fff" stroke="#a8a8a8" stroke-width="0.8" stroke-linejoin="round" stroke-linecap="round" /><path d="M353.9,56.5 L366.8,53.3 L368,56.5 L355.5,60.5Z" fill="#fff" stroke="#a8a8a8" stroke-width="0.8" stroke-linejoin="round" stroke-linecap="round" /><path d="M355,58.5 L367.3,55" fill="none" stroke="#a8a8a8" stroke-width="0.6" stroke-linejoin="round" stroke-linecap="round" /><path d="M600.6,53.8 L538.5,58.3 Q536.4,58.5 536.4,60.5 L536.4,65.3 Q536.4,67.5 538.5,67.5 L600.6,63" fill="#fff" stroke="#a8a8a8" stroke-width="0.9" stroke-linejoin="round" stroke-linecap="round" /><path d="M612.6,53.8 L678.5,58.3 Q680.5,58.5 680.5,60.5 L680.5,65.3 Q680.5,67.5 678.5,67.5 L612.6,63" fill="#fff" stroke="#a8a8a8" stroke-width="0.9" stroke-linejoin="round" stroke-linecap="round" /><path d="M600.6,54 Q600.6,52.3 603,52.3 L610.2,52.3 Q612.6,52.3 612.6,54 L612.6,81 Q612.6,86.8 606.6,86.8 Q600.6,86.8 600.6,81Z" fill="#fff" stroke="#a8a8a8" stroke-width="0.9" stroke-linejoin="round" stroke-linecap="round" /><path d="M600.6,63 Q606.6,61 612.6,63" fill="none" stroke="#a8a8a8" stroke-width="0.8" stroke-linejoin="round" stroke-linecap="round" /><circle cx="606.8" cy="79.4" r="3.2" fill="none" stroke="#a8a8a8" stroke-width="0.8"/><circle cx="606.8" cy="79.4" r="0.9" fill="none" stroke="#a8a8a8" stroke-width="0.6"/><path d="M643.90,211.20 L643.57,211.81 L642.70,212.39 L641.63,212.93 L640.75,213.45 L640.38,213.98 L640.65,214.57 L641.43,215.23 L642.39,215.95 L643.14,216.67 L643.36,217.33 L642.93,217.87 L641.98,218.30 L640.83,218.64 L639.87,219.00 L639.41,219.46 L639.58,220.08 L640.23,220.87 L641.06,221.75 L641.67,222.59 L641.77,223.27 L641.25,223.73 L640.24,223.98 L639.05,224.12 L638.04,224.31 L637.51,224.68 L637.56,225.33 L638.07,226.22 L638.73,227.22 L639.19,228.16 L639.17,228.85 L638.58,229.21 L637.54,229.28 L636.34,229.21 L635.32,229.22 L634.73,229.50 L634.67,230.14 L635.01,231.10 L635.49,232.21 L635.78,233.21 L635.64,233.89 L635.00,234.15 L633.96,234.03 L632.79,233.76 L631.78,233.59 L631.16,233.76 L630.99,234.38 L631.16,235.39 L631.43,236.56 L631.55,237.60 L631.29,238.24 L630.61,238.38 L629.61,238.09 L628.50,237.61 L627.54,237.27 L626.90,237.33 L626.62,237.92 L626.61,238.94 L626.68,240.14 L626.61,241.18 L626.25,241.77 L625.56,241.79 L624.62,241.33 L623.62,240.67 L622.73,240.16 L622.08,240.11 L621.71,240.64 L621.52,241.65 L621.38,242.84 L621.13,243.85 L620.67,244.37 L619.99,244.27 L619.15,243.66 L618.27,242.83 L617.48,242.18 L616.86,242.01 L616.40,242.47 L616.04,243.43 L615.70,244.58 L615.27,245.53 L614.73,245.96 L614.07,245.74 L613.35,244.99 L612.63,244.03 L611.97,243.25 L611.38,242.98 L610.85,243.35 L610.33,244.23 L609.79,245.30 L609.21,246.17 L608.60,246.50 L607.99,246.17 L607.41,245.30 L606.87,244.23 L606.35,243.35 L605.82,242.98 L605.23,243.25 L604.57,244.03 L603.85,244.99 L603.13,245.74 L602.47,245.96 L601.93,245.53 L601.50,244.58 L601.16,243.43 L600.80,242.47 L600.34,242.01 L599.72,242.18 L598.93,242.83 L598.05,243.66 L597.21,244.27 L596.53,244.37 L596.07,243.85 L595.82,242.84 L595.68,241.65 L595.49,240.64 L595.12,240.11 L594.47,240.16 L593.58,240.67 L592.58,241.33 L591.64,241.79 L590.95,241.77 L590.59,241.18 L590.52,240.14 L590.59,238.94 L590.58,237.92 L590.30,237.33 L589.66,237.27 L588.70,237.61 L587.59,238.09 L586.59,238.38 L585.91,238.24 L585.65,237.60 L585.77,236.56 L586.04,235.39 L586.21,234.38 L586.04,233.76 L585.42,233.59 L584.41,233.76 L583.24,234.03 L582.20,234.15 L581.56,233.89 L581.42,233.21 L581.71,232.21 L582.19,231.10 L582.53,230.14 L582.47,229.50 L581.88,229.22 L580.86,229.21 L579.66,229.28 L578.62,229.21 L578.03,228.85 L578.01,228.16 L578.47,227.22 L579.13,226.22 L579.64,225.33 L579.69,224.68 L579.16,224.31 L578.15,224.12 L576.96,223.98 L575.95,223.73 L575.43,223.27 L575.53,222.59 L576.14,221.75 L576.97,220.87 L577.62,220.08 L577.79,219.46 L577.33,219.00 L576.37,218.64 L575.22,218.30 L574.27,217.87 L573.84,217.33 L574.06,216.67 L574.81,215.95 L575.77,215.23 L576.55,214.57 L576.82,213.98 L576.45,213.45 L575.57,212.93 L574.50,212.39 L573.63,211.81 L573.30,211.20 L573.63,210.59 L574.50,210.01 L575.57,209.47 L576.45,208.95 L576.82,208.42 L576.55,207.83 L575.77,207.17 L574.81,206.45 L574.06,205.73 L573.84,205.07 L574.27,204.53 L575.22,204.10 L576.37,203.76 L577.33,203.40 L577.79,202.94 L577.62,202.32 L576.97,201.53 L576.14,200.65 L575.53,199.81 L575.43,199.13 L575.95,198.67 L576.96,198.42 L578.15,198.28 L579.16,198.09 L579.69,197.72 L579.64,197.07 L579.13,196.18 L578.47,195.18 L578.01,194.24 L578.03,193.55 L578.62,193.19 L579.66,193.12 L580.86,193.19 L581.88,193.18 L582.47,192.90 L582.53,192.26 L582.19,191.30 L581.71,190.19 L581.42,189.19 L581.56,188.51 L582.20,188.25 L583.24,188.37 L584.41,188.64 L585.42,188.81 L586.04,188.64 L586.21,188.02 L586.04,187.01 L585.77,185.84 L585.65,184.80 L585.91,184.16 L586.59,184.02 L587.59,184.31 L588.70,184.79 L589.66,185.13 L590.30,185.07 L590.58,184.48 L590.59,183.46 L590.52,182.26 L590.59,181.22 L590.95,180.63 L591.64,180.61 L592.58,181.07 L593.58,181.73 L594.47,182.24 L595.12,182.29 L595.49,181.76 L595.68,180.75 L595.82,179.56 L596.07,178.55 L596.53,178.03 L597.21,178.13 L598.05,178.74 L598.93,179.57 L599.72,180.22 L600.34,180.39 L600.80,179.93 L601.16,178.97 L601.50,177.82 L601.93,176.87 L602.47,176.44 L603.13,176.66 L603.85,177.41 L604.57,178.37 L605.23,179.15 L605.82,179.42 L606.35,179.05 L606.87,178.17 L607.41,177.10 L607.99,176.23 L608.60,175.90 L609.21,176.23 L609.79,177.10 L610.33,178.17 L610.85,179.05 L611.38,179.42 L611.97,179.15 L612.63,178.37 L613.35,177.41 L614.07,176.66 L614.73,176.44 L615.27,176.87 L615.70,177.82 L616.04,178.97 L616.40,179.93 L616.86,180.39 L617.48,180.22 L618.27,179.57 L619.15,178.74 L619.99,178.13 L620.67,178.03 L621.13,178.55 L621.38,179.56 L621.52,180.75 L621.71,181.76 L622.08,182.29 L622.73,182.24 L623.62,181.73 L624.62,181.07 L625.56,180.61 L626.25,180.63 L626.61,181.22 L626.68,182.26 L626.61,183.46 L626.62,184.48 L626.90,185.07 L627.54,185.13 L628.50,184.79 L629.61,184.31 L630.61,184.02 L631.29,184.16 L631.55,184.80 L631.43,185.84 L631.16,187.01 L630.99,188.02 L631.16,188.64 L631.78,188.81 L632.79,188.64 L633.96,188.37 L635.00,188.25 L635.64,188.51 L635.78,189.19 L635.49,190.19 L635.01,191.30 L634.67,192.26 L634.73,192.90 L635.32,193.18 L636.34,193.19 L637.54,193.12 L638.58,193.19 L639.17,193.55 L639.19,194.24 L638.73,195.18 L638.07,196.18 L637.56,197.07 L637.51,197.72 L638.04,198.09 L639.05,198.28 L640.24,198.42 L641.25,198.67 L641.77,199.13 L641.67,199.81 L641.06,200.65 L640.23,201.53 L639.58,202.32 L639.41,202.94 L639.87,203.40 L640.83,203.76 L641.98,204.10 L642.93,204.53 L643.36,205.07 L643.14,205.73 L642.39,206.45 L641.43,207.17 L640.65,207.83 L640.38,208.42 L640.75,208.95 L641.63,209.47 L642.70,210.01 L643.57,210.59Z" fill="#fff" stroke="#a8a8a8" stroke-width="0.9" stroke-linejoin="round"/><g transform="translate(596.29,195.44) rotate(-38)"><ellipse cx="0" cy="0" rx="9.6" ry="9.0" fill="none" stroke="#a8a8a8" stroke-width="0.9"/><path d="M-8,2.5 L8,-1" fill="none" stroke="#a8a8a8" stroke-width="0.8"/><path d="M-7,-3 q1.5,-3 3,-1 q1.5,2 3,-1 q1.5,-3 3,-1 q1.5,2 3,0" fill="none" stroke="#a8a8a8" stroke-width="0.8"/></g><path d="M-6,-2.5 L6,-2.5 L0.5,3.5Z" transform="translate(607.73,186.22) rotate(-2)" fill="none" stroke="#a8a8a8" stroke-width="0.85" stroke-linejoin="round"/><g transform="translate(619.78,194.62) rotate(34)"><ellipse cx="0" cy="0" rx="9.6" ry="9.0" fill="none" stroke="#a8a8a8" stroke-width="0.9"/><path d="M-8,2.5 L8,-1" fill="none" stroke="#a8a8a8" stroke-width="0.8"/><path d="M-7,-3 q1.5,-3 3,-1 q1.5,2 3,-1 q1.5,-3 3,-1 q1.5,2 3,0" fill="none" stroke="#a8a8a8" stroke-width="0.8"/></g><path d="M-6,-2.5 L6,-2.5 L0.5,3.5Z" transform="translate(632.09,202.65) rotate(70)" fill="none" stroke="#a8a8a8" stroke-width="0.85" stroke-linejoin="round"/><g transform="translate(627.83,216.71) rotate(106)"><ellipse cx="0" cy="0" rx="9.6" ry="9.0" fill="none" stroke="#a8a8a8" stroke-width="0.9"/><path d="M-8,2.5 L8,-1" fill="none" stroke="#a8a8a8" stroke-width="0.8"/><path d="M-7,-3 q1.5,-3 3,-1 q1.5,2 3,-1 q1.5,-3 3,-1 q1.5,2 3,0" fill="none" stroke="#a8a8a8" stroke-width="0.8"/></g><path d="M-6,-2.5 L6,-2.5 L0.5,3.5Z" transform="translate(623.99,230.90) rotate(142)" fill="none" stroke="#a8a8a8" stroke-width="0.85" stroke-linejoin="round"/><g transform="translate(609.30,231.19) rotate(178)"><ellipse cx="0" cy="0" rx="9.6" ry="9.0" fill="none" stroke="#a8a8a8" stroke-width="0.9"/><path d="M-8,2.5 L8,-1" fill="none" stroke="#a8a8a8" stroke-width="0.8"/><path d="M-7,-3 q1.5,-3 3,-1 q1.5,2 3,-1 q1.5,-3 3,-1 q1.5,2 3,0" fill="none" stroke="#a8a8a8" stroke-width="0.8"/></g><path d="M-6,-2.5 L6,-2.5 L0.5,3.5Z" transform="translate(594.62,231.93) rotate(214)" fill="none" stroke="#a8a8a8" stroke-width="0.85" stroke-linejoin="round"/><g transform="translate(589.81,218.04) rotate(250)"><ellipse cx="0" cy="0" rx="9.6" ry="9.0" fill="none" stroke="#a8a8a8" stroke-width="0.9"/><path d="M-8,2.5 L8,-1" fill="none" stroke="#a8a8a8" stroke-width="0.8"/><path d="M-7,-3 q1.5,-3 3,-1 q1.5,2 3,-1 q1.5,-3 3,-1 q1.5,2 3,0" fill="none" stroke="#a8a8a8" stroke-width="0.8"/></g><path d="M-6,-2.5 L6,-2.5 L0.5,3.5Z" transform="translate(584.57,204.31) rotate(286)" fill="none" stroke="#a8a8a8" stroke-width="0.85" stroke-linejoin="round"/><g transform="translate(608.6,211.2) rotate(41.74)"><path d="M0,-9.4 L52.3,-7 A7,7 0 0 1 52.3,7 L0,9.4 A9.4,9.4 0 0 1 0,-9.4Z" fill="#fff" stroke="#a8a8a8" stroke-width="0.9"/><circle cx="0" cy="0" r="5.7" fill="#fff" stroke="#a8a8a8" stroke-width="0.9"/><circle cx="52.3" cy="0" r="3.8" fill="#fff" stroke="#a8a8a8" stroke-width="0.9"/></g><line x1="196.00" y1="13.30" x2="349.00" y2="13.30" stroke="#6d71ab" stroke-width="1.1" /><path d="M192.00,13.30 L198.50,10.80 L198.50,15.80Z" fill="#1c1f84"/><path d="M353.00,13.30 L346.50,15.80 L346.50,10.80Z" fill="#1c1f84"/><line x1="246.80" y1="29.40" x2="349.00" y2="29.40" stroke="#6d71ab" stroke-width="1.1" /><path d="M242.80,29.40 L249.30,26.90 L249.30,31.90Z" fill="#1c1f84"/><path d="M353.00,29.40 L346.50,31.90 L346.50,26.90Z" fill="#1c1f84"/><line x1="242.6" y1="31" x2="242.6" y2="221" stroke="#6c70b0" stroke-width="1.35" stroke-dasharray="2.2 2.1"/><line x1="104.50" y1="127.00" x2="104.50" y2="317.50" stroke="#6d71ab" stroke-width="1.1" /><path d="M104.50,123.00 L107.00,129.50 L102.00,129.50Z" fill="#1c1f84"/><path d="M104.50,321.50 L102.00,315.00 L107.00,315.00Z" fill="#1c1f84"/><line x1="117.00" y1="258.40" x2="433.50" y2="258.40" stroke="#6d71ab" stroke-width="1.1" /><path d="M113.00,258.40 L119.50,255.90 L119.50,260.90Z" fill="#1c1f84"/><path d="M437.50,258.40 L431.00,260.90 L431.00,255.90Z" fill="#1c1f84"/><line x1="116.97" y1="234.33" x2="219.03" y2="247.87" stroke="#6d71ab" stroke-width="1.1" /><path d="M113.00,233.80 L119.77,232.18 L119.11,237.13Z" fill="#1c1f84"/><path d="M223.00,248.40 L216.23,250.02 L216.89,245.07Z" fill="#1c1f84"/><line x1="256.60" y1="129.50" x2="256.60" y2="318.00" stroke="#6d71ab" stroke-width="1.1" /><path d="M256.60,125.50 L259.10,132.00 L254.10,132.00Z" fill="#1c1f84"/><path d="M256.60,322.00 L254.10,315.50 L259.10,315.50Z" fill="#1c1f84"/><line x1="366.30" y1="63.60" x2="366.30" y2="219.20" stroke="#6d71ab" stroke-width="1.1" /><path d="M366.30,59.60 L368.80,66.10 L363.80,66.10Z" fill="#1c1f84"/><path d="M366.30,223.20 L363.80,216.70 L368.80,216.70Z" fill="#1c1f84"/><line x1="223.34" y1="123.43" x2="242.40" y2="224.50" stroke="#6d71ab" stroke-width="1.1" /><path d="M222.60,119.50 L226.26,125.42 L221.35,126.35Z" fill="#1c1f84"/><line x1="263.00" y1="219.40" x2="263.00" y2="226.30" stroke="#6d71ab" stroke-width="1.0" /><path d="M263.00,215.40 L265.10,219.90 L260.90,219.90Z" fill="#1c1f84"/><path d="M263.00,230.30 L260.90,225.80 L265.10,225.80Z" fill="#1c1f84"/><line x1="117" y1="220.3" x2="261" y2="220.3" stroke="#6c70b0" stroke-width="1.35" stroke-dasharray="2.2 2.1"/><line x1="242.3" y1="225.2" x2="366.3" y2="225.2" stroke="#6c70b0" stroke-width="1.35" stroke-dasharray="2.2 2.1"/><line x1="377.30" y1="52.87" x2="387.80" y2="77.03" stroke="#6d71ab" stroke-width="1.1" /><path d="M375.70,49.20 L380.00,53.33 L375.78,55.16Z" fill="#1c1f84"/><path d="M389.40,80.70 L385.10,76.57 L389.32,74.74Z" fill="#1c1f84"/><path d="M210.59,217.39 A31.0,31.0 0 0 1 230.35,200.03" fill="none" stroke="#6d71ab" stroke-width="1.1"/><path d="M210.59,217.39 L210.90,210.43 L215.49,212.43Z" fill="#1c1f84"/><path d="M230.35,200.03 L224.81,204.25 L223.41,199.44Z" fill="#1c1f84"/><path d="M405.33,228.31 A18.9,18.9 0 0 1 423.94,207.20" fill="none" stroke="#6d71ab" stroke-width="1.1"/><path d="M405.33,228.31 L402.09,222.14 L407.05,221.56Z" fill="#1c1f84"/><path d="M423.94,207.20 L417.46,209.76 L417.41,204.76Z" fill="#1c1f84"/><path d="M436.30,232.70 L440.54,228.40 L442.33,233.06Z" fill="#1c1f84"/><path d="M447.60,228.30 L443.36,232.60 L441.57,227.94Z" fill="#1c1f84"/><line x1="436.9" y1="266.5" x2="436.9" y2="326.5" stroke="#6c70b0" stroke-width="1.35" stroke-dasharray="2.2 2.1"/><line x1="456.9" y1="265.5" x2="482.6" y2="328" stroke="#6c70b0" stroke-width="1.35" stroke-dasharray="2.2 2.1"/><line x1="440.50" y1="329.70" x2="477.80" y2="329.70" stroke="#6d71ab" stroke-width="1.1" /><path d="M436.50,329.70 L443.00,327.20 L443.00,332.20Z" fill="#1c1f84"/><path d="M481.80,329.70 L475.30,332.20 L475.30,327.20Z" fill="#1c1f84"/><line x1="541.70" y1="99.10" x2="678.30" y2="99.10" stroke="#6d71ab" stroke-width="1.1" /><path d="M537.70,99.10 L544.20,96.60 L544.20,101.60Z" fill="#1c1f84"/><path d="M682.30,99.10 L675.80,101.60 L675.80,96.60Z" fill="#1c1f84"/><line x1="622.30" y1="55.90" x2="622.30" y2="82.80" stroke="#6d71ab" stroke-width="1.1" /><path d="M622.30,51.90 L624.60,57.40 L620.00,57.40Z" fill="#1c1f84"/><path d="M622.30,86.80 L620.00,81.30 L624.60,81.30Z" fill="#1c1f84"/><line x1="621.60" y1="197.24" x2="662.90" y2="233.56" stroke="#6d71ab" stroke-width="1.1" /><path d="M618.60,194.60 L625.13,197.02 L621.83,200.77Z" fill="#1c1f84"/><path d="M665.90,236.20 L659.37,233.78 L662.67,230.03Z" fill="#1c1f84"/><circle cx="273.1" cy="12.9" r="6.3" fill="#1c1f84"/><text x="273.1" y="16.50" font-family="Liberation Sans" font-weight="bold" font-size="10" fill="#fff" text-anchor="middle">C</text><circle cx="297.8" cy="29.4" r="6.3" fill="#1c1f84"/><text x="297.8" y="33.00" font-family="Liberation Sans" font-weight="bold" font-size="10" fill="#fff" text-anchor="middle">L</text><circle cx="104.4" cy="223.8" r="6.3" fill="#1c1f84"/><text x="104.4" y="227.40" font-family="Liberation Sans" font-weight="bold" font-size="10" fill="#fff" text-anchor="middle">Q</text><circle cx="291.8" cy="258.4" r="6.3" fill="#1c1f84"/><text x="291.8" y="262.00" font-family="Liberation Sans" font-weight="bold" font-size="10" fill="#fff" text-anchor="middle">H</text><circle cx="157.6" cy="239.9" r="6.3" fill="#1c1f84"/><text x="157.6" y="243.50" font-family="Liberation Sans" font-weight="bold" font-size="10" fill="#fff" text-anchor="middle">I</text><circle cx="256.6" cy="197.6" r="6.3" fill="#1c1f84"/><text x="256.6" y="201.20" font-family="Liberation Sans" font-weight="bold" font-size="10" fill="#fff" text-anchor="middle">M</text><circle cx="366.3" cy="137.3" r="6.3" fill="#1c1f84"/><text x="366.3" y="140.90" font-family="Liberation Sans" font-weight="bold" font-size="10" fill="#fff" text-anchor="middle">K</text><circle cx="229.2" cy="159.8" r="6.3" fill="#1c1f84"/><text x="229.2" y="163.40" font-family="Liberation Sans" font-weight="bold" font-size="10" fill="#fff" text-anchor="middle">A</text><circle cx="273.9" cy="216.6" r="6.3" fill="#1c1f84"/><text x="273.9" y="220.20" font-family="Liberation Sans" font-weight="bold" font-size="10" fill="#fff" text-anchor="middle">J</text><circle cx="383.9" cy="65.4" r="6.3" fill="#1c1f84"/><text x="383.9" y="69.00" font-family="Liberation Sans" font-weight="bold" font-size="10" fill="#fff" text-anchor="middle">D</text><circle cx="213.5" cy="199.4" r="6.3" fill="#1c1f84"/><text x="213.5" y="203.00" font-family="Liberation Sans" font-weight="bold" font-size="10" fill="#fff" text-anchor="middle">B</text><circle cx="419.2" cy="222.1" r="6.3" fill="#1c1f84"/><text x="419.2" y="225.70" font-family="Liberation Sans" font-weight="bold" font-size="10" fill="#fff" text-anchor="middle">E</text><circle cx="446.1" cy="241.9" r="6.3" fill="#1c1f84"/><text x="446.1" y="245.50" font-family="Liberation Sans" font-weight="bold" font-size="10" fill="#fff" text-anchor="middle">F</text><circle cx="459" cy="329.7" r="6.3" fill="#1c1f84"/><text x="459" y="333.30" font-family="Liberation Sans" font-weight="bold" font-size="10" fill="#fff" text-anchor="middle">G</text><circle cx="607" cy="99.1" r="6.3" fill="#1c1f84"/><text x="607" y="102.70" font-family="Liberation Sans" font-weight="bold" font-size="10" fill="#fff" text-anchor="middle">N</text><circle cx="622.3" cy="68.4" r="6.3" fill="#1c1f84"/><text x="622.3" y="72.00" font-family="Liberation Sans" font-weight="bold" font-size="10" fill="#fff" text-anchor="middle">O</text><circle cx="641.3" cy="214.1" r="6.3" fill="#1c1f84"/><text x="641.3" y="217.70" font-family="Liberation Sans" font-weight="bold" font-size="10" fill="#fff" text-anchor="middle">P</text></svg>
<div class="tog mmb">mm</div><div class="tog inb">inches</div>
<div class="hdr"></div>
<div class="hs" style="left:369.2px">S</div>
<div class="hs" style="left:497.4px">M</div>
<div class="hs" style="left:626.0px">L</div>
<div class="hs" style="left:754.4px">XL</div>
<div class="row" style="top:459px;background:#f9f9f9"></div>
<div class="ltr" style="top:465px">A</div>
<div class="lab" style="top:459px;letter-spacing:-0.571px">SEAT TUBE LENGTH <span class="mm">(mm)</span></div>
<div class="val" style="top:459px;left:373.3px">380</div>
<div class="val" style="top:459px;left:501.3px">431</div>
<div class="val" style="top:459px;left:629.5px">475</div>
<div class="val" style="top:459px;left:758.2px">525</div>
<div class="row" style="top:486px;background:#f4f4f4"></div>
<div class="ltr" style="top:492px">B</div>
<div class="lab" style="top:486px;letter-spacing:-0.686px">SEAT TUBE ANGLE</div>
<div class="val" style="top:486px;left:373.3px">73.5°</div>
<div class="val" style="top:486px;left:501.3px">73.5°</div>
<div class="val" style="top:486px;left:629.5px">73.5°</div>
<div class="val" style="top:486px;left:758.2px">73.5°</div>
<div class="row" style="top:513px;background:#f9f9f9"></div>
<div class="ltr" style="top:519px">C</div>
<div class="lab" style="top:513px;letter-spacing:-0.472px">TOP TUBE LENGTH <span class="mm">(mm)</span></div>
<div class="val" style="top:513px;left:373.3px">595</div>
<div class="val" style="top:513px;left:501.3px">614</div>
<div class="val" style="top:513px;left:629.5px">635</div>
<div class="val" style="top:513px;left:758.2px">665</div>
<div class="row" style="top:540px;background:#f4f4f4"></div>
<div class="ltr" style="top:546px">D</div>
<div class="lab" style="top:540px;letter-spacing:-0.457px">HEAD TUBE LENGTH <span class="mm">(mm)</span></div>
<div class="val" style="top:540px;left:373.3px">95</div>
<div class="val" style="top:540px;left:501.3px">95</div>
<div class="val" style="top:540px;left:629.5px">105</div>
<div class="val" style="top:540px;left:758.2px">115</div>
<div class="row" style="top:567px;background:#f9f9f9"></div>
<div class="ltr" style="top:573px">E</div>
<div class="lab" style="top:567px;letter-spacing:-0.564px">HEAD TUBE ANGLE</div>
<div class="val" style="top:567px;left:373.3px">69.5°</div>
<div class="val" style="top:567px;left:501.3px">69.5°</div>
<div class="val" style="top:567px;left:629.5px">70.0°</div>
<div class="val" style="top:567px;left:758.2px">70.0°</div>
<div class="row" style="top:594px;background:#f4f4f4"></div>
<div class="ltr" style="top:600px">F</div>
<div class="lab" style="top:594px;letter-spacing:-0.876px">FORK RAKE <span class="mm">(mm)</span></div>
<div class="val" style="top:594px;left:373.3px">43</div>
<div class="val" style="top:594px;left:501.3px">43</div>
<div class="val" style="top:594px;left:629.5px">43</div>
<div class="val" style="top:594px;left:758.2px">43</div>
<div class="row" style="top:621px;background:#f9f9f9"></div>
<div class="ltr" style="top:627px">G</div>
<div class="lab" style="top:621px;letter-spacing:-0.549px">TRAIL <span class="mm">(mm)</span></div>
<div class="val" style="top:621px;left:373.3px">94.9</div>
<div class="val" style="top:621px;left:501.3px">94.9</div>
<div class="val" style="top:621px;left:629.5px">94.9</div>
<div class="val" style="top:621px;left:758.2px">94.9</div>
<div class="row" style="top:648px;background:#f4f4f4"></div>
<div class="ltr" style="top:654px">H</div>
<div class="lab" style="top:648px;letter-spacing:-0.821px">WHEELBASE <span class="mm">(mm)</span></div>
<div class="val" style="top:648px;left:373.3px">1087</div>
<div class="val" style="top:648px;left:501.3px">1106</div>
<div class="val" style="top:648px;left:629.5px">1128</div>
<div class="val" style="top:648px;left:758.2px">1159</div>
<div class="row" style="top:675px;background:#f9f9f9"></div>
<div class="ltr" style="top:681px">I</div>
<div class="lab" style="top:675px;letter-spacing:-0.238px">CHAIN STAY LENGTH <span class="mm">(mm)</span></div>
<div class="val" style="top:675px;left:373.3px">425</div>
<div class="val" style="top:675px;left:501.3px">425</div>
<div class="val" style="top:675px;left:629.5px">425</div>
<div class="val" style="top:675px;left:758.2px">425</div>
<div class="row" style="top:702px;background:#f4f4f4"></div>
<div class="ltr" style="top:708px">J</div>
<div class="lab" style="top:702px;letter-spacing:-0.468px">BOTTOM BRACKET DROP <span class="mm">(mm)</span></div>
<div class="val" style="top:702px;left:373.3px">58</div>
<div class="val" style="top:702px;left:501.3px">58</div>
<div class="val" style="top:702px;left:629.5px">58</div>
<div class="val" style="top:702px;left:758.2px">58</div>
<div class="row" style="top:729px;background:#f9f9f9"></div>
<div class="ltr" style="top:735px">K</div>
<div class="lab" style="top:729px;letter-spacing:-0.994px">STACK <span class="mm">(mm)</span></div>
<div class="val" style="top:729px;left:373.3px">604</div>
<div class="val" style="top:729px;left:501.3px">604</div>
<div class="val" style="top:729px;left:629.5px">613</div>
<div class="val" style="top:729px;left:758.2px">632</div>
<div class="row" style="top:756px;background:#f4f4f4"></div>
<div class="ltr" style="top:762px">L</div>
<div class="lab" style="top:756px;letter-spacing:-0.725px">REACH <span class="mm">(mm)</span></div>
<div class="val" style="top:756px;left:373.3px">416</div>
<div class="val" style="top:756px;left:501.3px">435</div>
<div class="val" style="top:756px;left:629.5px">435</div>
<div class="val" style="top:756px;left:758.2px">477</div>
<div class="row" style="top:783px;background:#f9f9f9"></div>
<div class="ltr" style="top:789px">M</div>
<div class="lab" style="top:783px;letter-spacing:-0.424px">STAND OVER HEIGHT <span class="mm">(mm)</span></div>
<div class="val" style="top:783px;left:373.3px">737</div>
<div class="val" style="top:783px;left:501.3px">764</div>
<div class="val" style="top:783px;left:629.5px">791</div>
<div class="val" style="top:783px;left:758.2px">829</div>
<div class="row" style="top:810px;background:#f4f4f4"></div>
<div class="ltr" style="top:816px">N</div>
<div class="lab" style="top:810px;letter-spacing:-0.169px">HANDLEBAR WIDTH <span class="mm">(mm)</span></div>
<div class="val" style="top:810px;left:373.3px">780</div>
<div class="val" style="top:810px;left:501.3px">780</div>
<div class="val" style="top:810px;left:629.5px">780</div>
<div class="val" style="top:810px;left:758.2px">780</div>
<div class="row" style="top:837px;background:#f9f9f9"></div>
<div class="ltr" style="top:843px">O</div>
<div class="lab" style="top:837px;letter-spacing:-0.461px">STEM LENGTH <span class="mm">(mm)</span></div>
<div class="val" style="top:837px;left:373.3px">60</div>
<div class="val" style="top:837px;left:501.3px">70</div>
<div class="val" style="top:837px;left:629.5px">80</div>
<div class="val" style="top:837px;left:758.2px">90</div>
<div class="row" style="top:864px;background:#f4f4f4"></div>
<div class="ltr" style="top:870px">P</div>
<div class="lab" style="top:864px;letter-spacing:-0.446px">CRANK LENGTH <span class="mm">(mm)</span></div>
<div class="val" style="top:864px;left:373.3px">170</div>
<div class="val" style="top:864px;left:501.3px">175</div>
<div class="val" style="top:864px;left:629.5px">175</div>
<div class="val" style="top:864px;left:758.2px">175</div>
<div class="row" style="top:891px;background:#f9f9f9"></div>
<div class="ltr" style="top:897px">Q</div>
<div class="lab" style="top:891px;letter-spacing:-0.712px">WHEEL SIZE</div>
<div class="val" style="top:891px;left:373.3px">29"</div>
<div class="val" style="top:891px;left:501.3px">29"</div>
<div class="val" style="top:891px;left:629.5px">29"</div>
<div class="val" style="top:891px;left:758.2px">29"</div>
</body></html>
